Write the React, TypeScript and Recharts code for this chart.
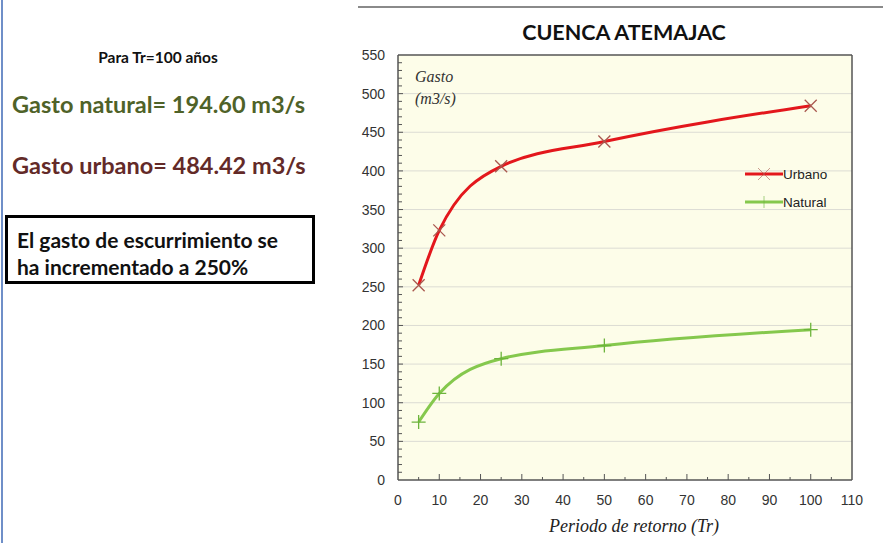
import { LineChart, Line, XAxis, YAxis, ReferenceLine, ReferenceArea, Label } from "recharts"

const periods = [5, 10, 25, 50, 100]
const urbano = [252, 323, 406, 438, 484.42]
const natural = [75, 112, 157, 174, 194.6]

const xTicks = [0, 5, 10, 15, 20, 25, 30, 35, 40, 45, 50, 55, 60, 65, 70, 75, 80, 85, 90, 95, 100, 105, 110]
const yTicks = Array.from({ length: 56 }, (_, i) => i * 10)
const yMajor = [50, 100, 150, 200, 250, 300, 350, 400, 450, 500]

const data = periods.map((tr, i) => ({ tr, urbano: urbano[i], natural: natural[i] }))

const RED = "#e3171c"
const RED_MARK = "#a9584f"
const GREEN = "#85c84d"
const GREEN_MARK = "#6db43c"
const AXIS = "#555"
const Y_MARGIN = 13

const CrossDot = (props: any) => {
  const { cx, cy, index } = props
  if (cx == null || cy == null) return <g key={`u${index}`} />
  const s = 6
  return (
    <path
      key={`u${index}`}
      d={`M${cx - s},${cy - s}L${cx + s},${cy + s}M${cx - s},${cy + s}L${cx + s},${cy - s}`}
      stroke={RED_MARK}
      strokeWidth={1.3}
      fill="none"
    />
  )
}

const PlusDot = (props: any) => {
  const { cx, cy, index } = props
  if (cx == null || cy == null) return <g key={`n${index}`} />
  const s = 7
  return (
    <path
      key={`n${index}`}
      d={`M${cx - s},${cy}L${cx + s},${cy}M${cx},${cy - s}L${cx},${cy + s}`}
      stroke={GREEN_MARK}
      strokeWidth={1.3}
      fill="none"
    />
  )
}

const XTick = (props: any) => {
  const { x, y, payload } = props
  const v = payload.value as number
  const major = v % 10 === 0
  const axisY = y - 8
  return (
    <g>
      {v > 0 && v < 110 && (
        <line x1={x} x2={x} y1={axisY} y2={axisY - (major ? 6 : 3)} stroke={AXIS} />
      )}
      {major && (
        <text x={x} y={y} dy={17} textAnchor="middle" fontSize={14} fill="#333" fontFamily="Liberation Sans, Arial">
          {v}
        </text>
      )}
    </g>
  )
}

const YTick = (props: any) => {
  const { x, y, payload } = props
  const v = payload.value as number
  const major = v % 50 === 0
  const axisX = x + Y_MARGIN
  return (
    <g>
      {v > 0 && v < 550 && (
        <line x1={axisX} x2={axisX + (major ? 5 : 4)} y1={y} y2={y} stroke={AXIS} />
      )}
      {major && (
        <text x={x} y={y} dy={5} textAnchor="end" fontSize={14} fill="#333" fontFamily="Liberation Sans, Arial">
          {v}
        </text>
      )}
    </g>
  )
}

const XLabel = (props: any) => {
  const { viewBox } = props
  const cx = viewBox.x + viewBox.width / 2 + 9
  return (
    <text
      x={cx}
      y={viewBox.y + 52}
      textAnchor="middle"
      fontFamily="Liberation Serif, serif"
      fontStyle="italic"
      fontSize={18}
      fill="#222"
    >
      Periodo de retorno (Tr)
    </text>
  )
}

const LegendRow = ({ color, mark, label }: { color: string; mark: string; label: string }) => (
  <div style={{ display: "flex", alignItems: "center", height: 28 }}>
    <svg width={38} height={14}>
      <line x1={0} x2={38} y1={7} y2={7} stroke={color} strokeWidth={3} />
      <path d={mark} stroke={color === RED ? RED_MARK : GREEN_MARK} strokeWidth={1} opacity={0.6} fill="none" />
    </svg>
    <span>{label}</span>
  </div>
)

export default function App() {
  return (
    <div
      style={{
        position: "fixed",
        left: 0,
        top: 0,
        width: 883,
        height: 543,
        background: "#fff",
        overflow: "hidden",
        fontFamily: "Lato, 'Open Sans', sans-serif",
      }}
    >
      <div style={{ position: "absolute", left: 1, top: 0, width: 2, height: 543, background: "#6f8fc8" }} />
      <div style={{ position: "absolute", left: 358, top: 6, width: 525, height: 2, background: "#8a8a8a" }} />

      <div style={{ position: "absolute", left: 0, top: 48, width: 316, textAlign: "center", fontSize: 15.5, fontWeight: 700, color: "#111" }}>
        Para Tr=100 años
      </div>
      <div style={{ position: "absolute", left: 12, top: 90, fontSize: 23.5, fontWeight: 700, color: "#4f6228" }}>
        Gasto natural= 194.60 m3/s
      </div>
      <div style={{ position: "absolute", left: 12, top: 151, fontSize: 23.5, fontWeight: 700, color: "#632a28" }}>
        Gasto urbano= 484.42 m3/s
      </div>
      <div
        style={{
          position: "absolute",
          left: 5,
          top: 215,
          width: 310,
          height: 69,
          border: "3px solid #000",
          padding: "8px 0 0 9px",
          boxSizing: "border-box",
          fontSize: 21,
          fontWeight: 700,
          lineHeight: "27px",
          color: "#111",
        }}
      >
        El gasto de escurrimiento se
        <br />
        ha incrementado a 250%
      </div>

      <div style={{ position: "absolute", left: 350, top: 19, width: 548, textAlign: "center", fontSize: 21.5, fontWeight: 700, color: "#111" }}>
        CUENCA ATEMAJAC
      </div>

      <div style={{ position: "absolute", left: 350, top: 0 }}>
        <LineChart
          width={533}
          height={543}
          data={data}
          margin={{ top: 55, right: 31, bottom: 0, left: 0 }}
        >
          <ReferenceArea x1={0} x2={110} y1={0} y2={550} fill="#fdfde9" fillOpacity={1} stroke="none" ifOverflow="visible" />
          {yMajor.map((v) => (
            <ReferenceLine key={v} y={v} stroke="#dcdcd4" strokeWidth={1} />
          ))}
          <XAxis
            dataKey="tr"
            type="number"
            domain={[0, 110]}
            ticks={xTicks}
            interval={0}
            height={63}
            tickSize={0}
            tickMargin={8}
            axisLine={{ stroke: AXIS, strokeWidth: 1.5 }}
            tickLine={false}
            tick={<XTick />}
          >
            <Label content={<XLabel />} />
          </XAxis>
          <YAxis
            type="number"
            domain={[0, 550]}
            ticks={yTicks}
            interval={0}
            width={48}
            tickSize={0}
            tickMargin={Y_MARGIN}
            axisLine={{ stroke: AXIS, strokeWidth: 1.5 }}
            tickLine={false}
            tick={<YTick />}
          />
          <ReferenceLine y={550} stroke={AXIS} strokeWidth={1.5} ifOverflow="visible" />
          <ReferenceLine x={110} stroke={AXIS} strokeWidth={1.5} ifOverflow="visible" />
          <Line
            type="monotone"
            dataKey="urbano"
            name="Urbano"
            stroke={RED}
            strokeWidth={3}
            dot={<CrossDot />}
            activeDot={false}
            isAnimationActive={false}
          />
          <Line
            type="monotone"
            dataKey="natural"
            name="Natural"
            stroke={GREEN}
            strokeWidth={3}
            dot={<PlusDot />}
            activeDot={false}
            isAnimationActive={false}
          />
        </LineChart>
        <div
          style={{
            position: "absolute",
            left: 65,
            top: 66,
            fontFamily: "Liberation Serif, serif",
            fontStyle: "italic",
            fontSize: 16,
            lineHeight: "22px",
            color: "#333",
          }}
        >
          Gasto
          <br />
          (m3/s)
        </div>
        <div
          style={{
            position: "absolute",
            left: 395,
            top: 160,
            fontFamily: "Liberation Sans, Arial",
            fontSize: 13.5,
            color: "#222",
          }}
        >
          <LegendRow color={RED} mark="M13,1L25,13M13,13L25,1" label="Urbano" />
          <LegendRow color={GREEN} mark="M19,1L19,13" label="Natural" />
        </div>
      </div>
    </div>
  )
}
